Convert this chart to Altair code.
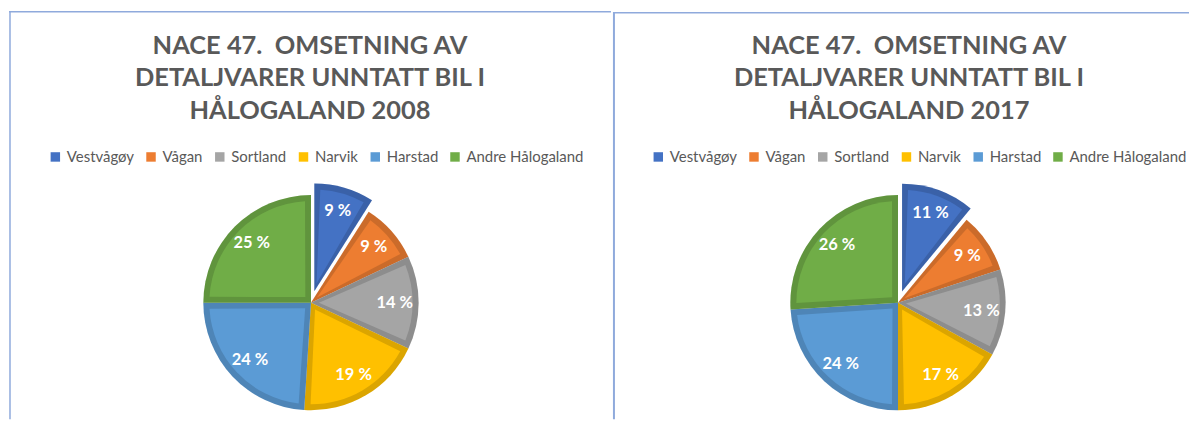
import math
import altair as alt
import pandas as pd

# ---- data ----
regions = ["Vestvågøy", "Vågan", "Sortland", "Narvik", "Harstad", "Andre Hålogaland"]
share_2008 = [9, 9, 14, 19, 24, 25]
share_2017 = [11, 9, 13, 17, 24, 26]
title_lines = ["NACE 47.\u00a0 OMSETNING AV", "DETALJVARER UNNTATT BIL I", "HÅLOGALAND {year}"]
exploded = "Vestvågøy"

main_colors = ["#4472C4", "#ED7D31", "#A5A5A5", "#FFC000", "#5B9BD5", "#70AD47"]

FONT = "Lato"
GREY = "#595959"
BORDER = "#8FAADC"
R_OUT = 108
BAND = 6
R_IN = R_OUT - BAND
PAD = 2 * BAND / math.sqrt(R_IN ** 2 + 8 ** 2)
EXPLODE = 12
LABEL_R = 84
TOTAL_H = 412


def make_table(values):
    total = sum(values)
    rows, cum = [], 0
    for i, (r, v) in enumerate(zip(regions, values)):
        rows.append(dict(region=r, value=v, order=i,
                         start=cum / total, end=(cum + v) / total,
                         mid=(cum + v / 2) / total, label=f"{v} %"))
        cum += v
    return pd.DataFrame(rows)


def panel(values, year, width, cx, cy, title_x, legend_x, legend_y, top_y, line_w):
    df = make_table(values)
    base = alt.Chart(df)
    theta_scale = alt.Scale(domain=[0, 1], range=[0, 2 * math.pi])
    theta = alt.Theta("start:Q", scale=theta_scale)
    theta2 = alt.Theta2("end:Q")
    theta_mid = alt.Theta("mid:Q", scale=theta_scale)
    legend = alt.Legend(orient="none", legendX=legend_x, legendY=legend_y, direction="horizontal",
                        columns=6, title="", symbolType="square", symbolSize=90,
                        symbolStrokeWidth=0, labelFont=FONT, labelFontSize=15,
                        labelColor=GREY, labelOffset=4, columnPadding=9)
    color_main = alt.Color("region:N", scale=alt.Scale(domain=regions, range=main_colors), legend=legend)

    row = df[df.region == exploded].iloc[0]
    ang = row["mid"] * 2 * math.pi
    dx, dy = EXPLODE * math.sin(ang), -EXPLODE * math.cos(ang)

    one = alt.Chart(pd.DataFrame({"k": [0]}))
    layers = [
        one.mark_rule(color=BORDER, strokeWidth=1.5).encode(
            x=alt.value(0), x2=alt.value(width), y=alt.value(top_y)),
        one.mark_rule(color=BORDER, strokeWidth=line_w).encode(
            x=alt.value(1), y=alt.value(top_y), y2=alt.value(TOTAL_H)),
        one.mark_text(text=[t.format(year=year) for t in title_lines], lineHeight=33,
                      font=FONT, fontSize=25.5, fontWeight="bold", color=GREY,
                      align="center", baseline="alphabetic").encode(
            x=alt.value(title_x), y=alt.value(45)),
    ]
    for sel, ox, oy in [(f"datum.region != '{exploded}'", 0, 0),
                        (f"datum.region == '{exploded}'", dx, dy)]:
        b = base.transform_filter(sel)
        pos = dict(x=alt.value(cx + ox), y=alt.value(cy + oy))
        # full slice in the series colour
        layers.append(b.mark_arc(outerRadius=R_OUT, innerRadius=0).encode(
            theta=theta, theta2=theta2, color=color_main, **pos))
        # darkening veil -> border band
        layers.append(b.mark_arc(outerRadius=R_OUT, innerRadius=0, fill="black",
                                 fillOpacity=0.14).encode(
            theta=theta, theta2=theta2, **pos))
        # inset slice in the series colour
        layers.append(b.mark_arc(outerRadius=R_IN, innerRadius=8, padAngle=PAD).encode(
            theta=theta, theta2=theta2, color=color_main, **pos))
        layers.append(b.mark_text(radius=LABEL_R, font=FONT, fontSize=16.5, fontWeight="bold",
                                  color="white", align="center", baseline="middle").encode(
            theta=theta_mid, text="label:N", **pos))
    return alt.layer(*layers).properties(
        width=width, height=TOTAL_H,
        view=alt.ViewBackground(stroke="transparent", strokeWidth=0))


left = panel(share_2008, "2008", 604, 303, 295, 302, 39, 141, 3, 1.5)
right = panel(share_2017, "2017", 578, 286, 295, 297, 38, 141, 4, 2)

chart = (alt.hconcat(left, right, spacing=0)
         .resolve_scale(color="independent", theta="independent")
         .resolve_legend(color="independent")
         .properties(padding={"left": 0, "top": 0, "right": 0, "bottom": 0})
         .configure_view(stroke="transparent", strokeWidth=0)
         .configure(background="white"))

chart.save("out.html", embed_options={"renderer": "svg", "actions": False})
